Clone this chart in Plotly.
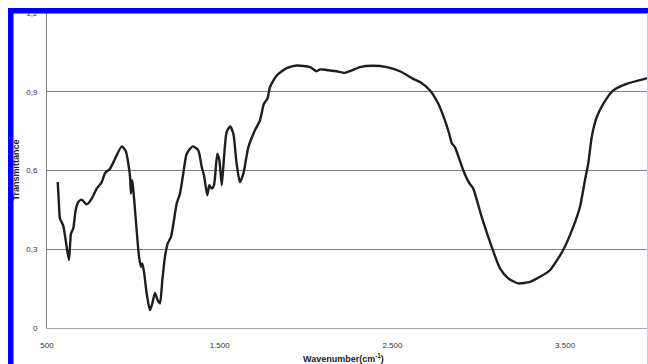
import plotly.graph_objects as go

wavenumber = [562, 569, 575, 594, 608, 627, 639, 652, 666, 681, 701, 730, 759, 788, 817, 836, 865, 894,
              933, 956, 971, 981, 986, 994, 1005, 1019, 1033, 1044, 1052, 1063, 1077, 1096, 1110, 1125,
              1141, 1154, 1168, 1183, 1199, 1218, 1251, 1270, 1289, 1309, 1344, 1376, 1396, 1409, 1428,
              1440, 1454, 1467, 1486, 1498, 1512, 1525, 1540, 1560, 1579, 1598, 1617, 1637, 1666, 1704,
              1733, 1756, 1776, 1791, 1830, 1888, 1946, 2023, 2061, 2081, 2119, 2177, 2225, 2264, 2312,
              2389, 2467, 2544, 2621, 2660, 2718, 2766, 2804, 2829, 2843, 2862, 2910, 2945, 2968, 3017,
              3075, 3123, 3171, 3229, 3297, 3354, 3412, 3489, 3547, 3586, 3615, 3634, 3654, 3683, 3721,
              3779, 3856, 3978]
transmittance = [0.556, 0.474, 0.417, 0.39, 0.335, 0.259, 0.36, 0.379, 0.449, 0.48, 0.489, 0.471, 0.493,
                 0.531, 0.556, 0.59, 0.607, 0.645, 0.692, 0.674, 0.626, 0.575, 0.512, 0.563, 0.487, 0.373,
                 0.271, 0.233, 0.246, 0.208, 0.132, 0.068, 0.094, 0.134, 0.106, 0.094, 0.183, 0.271, 0.322,
                 0.347, 0.474, 0.512, 0.588, 0.664, 0.692, 0.677, 0.613, 0.582, 0.506, 0.544, 0.531, 0.544,
                 0.664, 0.639, 0.544, 0.651, 0.746, 0.768, 0.74, 0.626, 0.556, 0.588, 0.689, 0.753, 0.791,
                 0.854, 0.873, 0.917, 0.962, 0.99, 1.0, 0.994, 0.978, 0.985, 0.983, 0.978, 0.972, 0.981,
                 0.994, 0.999, 0.994, 0.978, 0.949, 0.937, 0.905, 0.854, 0.791, 0.74, 0.705, 0.689, 0.601,
                 0.552, 0.531, 0.423, 0.309, 0.227, 0.189, 0.17, 0.176, 0.195, 0.22, 0.297, 0.385, 0.461,
                 0.563, 0.626, 0.727, 0.803, 0.854, 0.905, 0.93, 0.952]

x_tickvals = [500, 1500, 2500, 3500]
x_ticktext = ["500", "1.500", "2.500", "3.500"]
y_tickvals = [0, 0.3, 0.6, 0.9, 1.2]
y_ticktext = ["0", "0,3", "0,6", "0,9", "1,2"]

fig = go.Figure()
fig.add_trace(go.Scatter(x=wavenumber, y=transmittance, mode="lines",
                         line=dict(color="#1e1e1e", width=2.4, shape="spline", smoothing=0.6),
                         showlegend=False, hoverinfo="skip"))

W, H = 648, 364
L, R, T, B = 47, 0, 13, 36
pw, ph = W - L - R, H - T - B

def px_x(p):
    return (p - L) / pw

def px_y(p):
    return (H - B - p) / ph

fig.update_layout(
    width=W, height=H,
    margin=dict(l=L, r=R, t=T, b=B, pad=0),
    paper_bgcolor="white", plot_bgcolor="white",
    font=dict(family="Liberation Sans", size=8, color="#333333"),
    xaxis=dict(range=[500, 3980], tickvals=x_tickvals, ticktext=x_ticktext,
               showgrid=False, zeroline=False, showline=True, linecolor="#a6a6a6", linewidth=1,
               ticks="", ticklabelstandoff=9, tickfont=dict(size=8, color="#333333")),
    yaxis=dict(range=[0, 1.2], tickvals=y_tickvals, ticktext=y_ticktext,
               showgrid=True, gridcolor="#808080", gridwidth=1, zeroline=False,
               showline=True, linecolor="#808080", linewidth=1,
               ticks="", ticklabelstandoff=7, tickfont=dict(size=8, color="#333333")),
    annotations=[
        dict(text="<b>Transmittance</b>", xref="paper", yref="paper", x=px_x(15.5), y=px_y(170),
             textangle=-90, showarrow=False, xanchor="center", yanchor="middle",
             font=dict(family="Liberation Sans", size=9, color="#222222")),
        dict(text="<b>Wavenumber(cm<sup>-1</sup>)</b>", xref="paper", yref="paper", x=px_x(343), y=px_y(358),
             showarrow=False, xanchor="center", yanchor="middle",
             font=dict(family="Liberation Sans", size=9, color="#222222")),
    ],
    shapes=[
        dict(type="rect", xref="paper", yref="paper", x0=px_x(8), x1=px_x(13.5), y0=px_y(370), y1=px_y(8),
             fillcolor="#0000ff", line=dict(width=0), layer="above"),
        dict(type="rect", xref="paper", yref="paper", x0=px_x(8), x1=px_x(650), y0=px_y(13.5), y1=px_y(8),
             fillcolor="#0000ff", line=dict(width=0), layer="above"),
        dict(type="line", xref="paper", yref="paper", x0=px_x(647.5), x1=px_x(647.5), y0=px_y(370), y1=px_y(13),
             line=dict(color="#c8c8f4", width=1), layer="above"),
    ],
)

fig.write_html("out.html")
